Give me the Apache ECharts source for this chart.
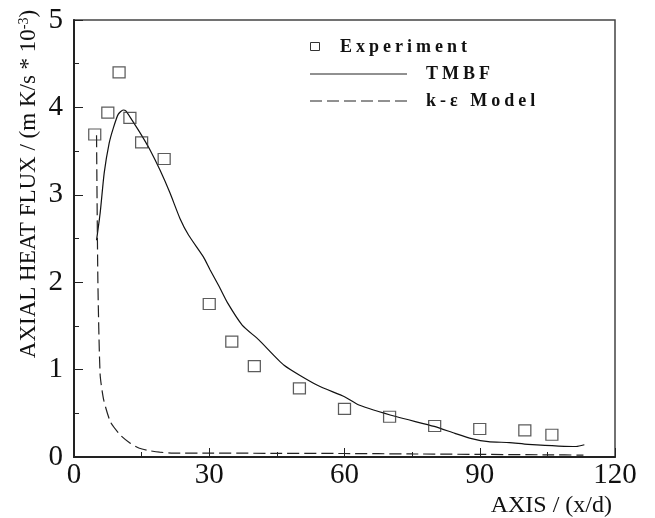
<!DOCTYPE html>
<html>
<head>
<meta charset="utf-8">
<script src="https://cdn.jsdelivr.net/npm/echarts@6/dist/echarts.min.js"></script>
<style>
html,body{margin:0;padding:0;background:#fff;}
#chart{width:655px;height:518px;}
</style>
</head>
<body>
<div id="chart"></div>
<script>
// ---- data ----
var expX = [4.6, 7.5, 10, 12.4, 15, 20, 30, 35, 40, 50, 60, 70, 80, 90, 100, 106];
var expY = [3.69, 3.94, 4.40, 3.88, 3.60, 3.41, 1.75, 1.32, 1.04, 0.785, 0.55, 0.46, 0.355, 0.32, 0.305, 0.255];

var tmbfX = [5.0, 5.8, 6.7, 7.8, 8.7, 9.8, 10.9, 11.5, 12.8, 15, 16.9, 19.1, 21.3, 23.5, 25.4, 28.7, 30.2, 32.2, 34.1, 37.3, 41, 46.6, 54, 60, 63.2, 71.6, 79.9, 84.5, 88.2, 91.9, 96.6, 100.7, 111.4, 113.2];
var tmbfY = [2.48, 2.79, 3.25, 3.59, 3.76, 3.92, 3.97, 3.96, 3.86, 3.68, 3.51, 3.28, 3.02, 2.73, 2.54, 2.29, 2.14, 1.95, 1.76, 1.51, 1.34, 1.05, 0.82, 0.69, 0.595, 0.46, 0.35, 0.27, 0.21, 0.175, 0.165, 0.145, 0.12, 0.14];

var keX = [5.0, 5.3, 5.8, 6.6, 8.1, 10.3, 12.4, 14.5, 17, 19, 22, 30, 45, 60, 75, 90, 105, 113];
var keY = [3.68, 2.0, 0.94, 0.65, 0.40, 0.25, 0.16, 0.10, 0.07, 0.055, 0.045, 0.045, 0.042, 0.04, 0.035, 0.03, 0.025, 0.022];

var xTicks = [0, 30, 60, 90, 120];
var yTicks = [0, 1, 2, 3, 4, 5];

var legendNames = ['Experiment', 'TMBF', 'k-\u03b5 Model'];
var xTitle = 'AXIS / (x/d)';
var yTitleMain = 'AXIAL HEAT FLUX / (m K/s * 10';
var yTitleSup = '-3';

function zip(a, b) { return a.map(function (v, i) { return [v, b[i]]; }); }

// widen letter spacing of bold (legend) text, as in the reference typesetting
(function () {
  var P = CanvasRenderingContext2D.prototype, orig = P.fillText;
  P.fillText = function () {
    if ('letterSpacing' in this) {
      this.letterSpacing = /bold/.test(this.font) ? '4px' : '0px';
    }
    return orig.apply(this, arguments);
  };
})();

var serif = '"Liberation Serif", "Times New Roman", serif';
var chart = echarts.init(document.getElementById('chart'), null, {renderer: 'canvas'});

chart.setOption({
  animation: false,
  backgroundColor: '#fff',
  grid: {left: 74, top: 20, right: 40, bottom: 61, show: true, borderColor: '#444', borderWidth: 1.5, outerBoundsMode: 'none'},
  xAxis: {
    type: 'value', min: xTicks[0], max: xTicks[xTicks.length - 1], interval: 30,
    axisLine: {show: true, onZero: false, lineStyle: {color: '#222', width: 2}},
    axisTick: {show: true, inside: true, length: 9, lineStyle: {color: '#222', width: 1}},
    minorTick: {show: true, splitNumber: 2, length: 5, lineStyle: {color: '#222', width: 1}},
    splitLine: {show: false},
    axisLabel: {margin: 4, fontFamily: serif, fontSize: 29, color: '#111'}
  },
  yAxis: {
    type: 'value', min: yTicks[0], max: yTicks[yTicks.length - 1], interval: 1,
    axisLine: {show: true, onZero: false, lineStyle: {color: '#222', width: 2}},
    axisTick: {show: true, inside: true, length: 9, lineStyle: {color: '#222', width: 1}},
    minorTick: {show: true, splitNumber: 2, length: 5, lineStyle: {color: '#222', width: 1}},
    splitLine: {show: false},
    axisLabel: {margin: 11, fontFamily: serif, fontSize: 29, color: '#111'}
  },
  series: [
    {
      name: legendNames[0], type: 'scatter', data: zip(expX, expY),
      symbol: 'rect', symbolSize: [12, 11],
      itemStyle: {color: 'rgba(0,0,0,0)', borderColor: '#333', borderWidth: 1.2},
      z: 3
    },
    {
      name: legendNames[1], type: 'line', data: zip(tmbfX, tmbfY),
      showSymbol: false, symbol: 'none', smooth: 0.2,
      lineStyle: {color: '#111', width: 1.2}
    },
    {
      name: legendNames[2], type: 'line', data: zip(keX, keY),
      showSymbol: false, symbol: 'none', smooth: 0.2,
      lineStyle: {color: '#222', width: 1.2, type: [12, 5]}
    }
  ],
  graphic: [
    {type: 'rect', shape: {x: 310.5, y: 42.5, width: 9, height: 8}, style: {fill: 'none', stroke: '#333', lineWidth: 1}},
    {type: 'line', shape: {x1: 310, y1: 74, x2: 407, y2: 74}, style: {stroke: '#222', lineWidth: 1}},
    {type: 'line', shape: {x1: 310, y1: 101, x2: 407, y2: 101}, style: {stroke: '#222', lineWidth: 1, lineDash: [12, 5]}},
    {type: 'text', x: 340, y: 47, style: {text: legendNames[0], font: 'bold 18px ' + serif, fill: '#111', textAlign: 'left', textVerticalAlign: 'middle'}},
    {type: 'text', x: 426, y: 74, style: {text: legendNames[1], font: 'bold 18px ' + serif, fill: '#111', textAlign: 'left', textVerticalAlign: 'middle'}},
    {type: 'text', x: 426, y: 101, style: {text: legendNames[2], font: 'bold 18px ' + serif, fill: '#111', textAlign: 'left', textVerticalAlign: 'middle'}},
    {type: 'text', x: 612, y: 518, style: {text: xTitle, font: '24px ' + serif, fill: '#111', textAlign: 'right', textVerticalAlign: 'bottom'}},
    {
      type: 'text', x: 29, y: 184, rotation: Math.PI / 2,
      style: {
        text: '{a|' + yTitleMain + '}{s|' + yTitleSup + '}{a|)}',
        textAlign: 'center', textVerticalAlign: 'middle', fill: '#111',
        rich: {
          a: {fontFamily: serif, fontSize: 23, color: '#111'},
          s: {fontFamily: serif, fontSize: 14, color: '#111', verticalAlign: 'top', padding: [0, 0, 10, 0]}
        }
      }
    }
  ]
});
</script>
</body>
</html>
